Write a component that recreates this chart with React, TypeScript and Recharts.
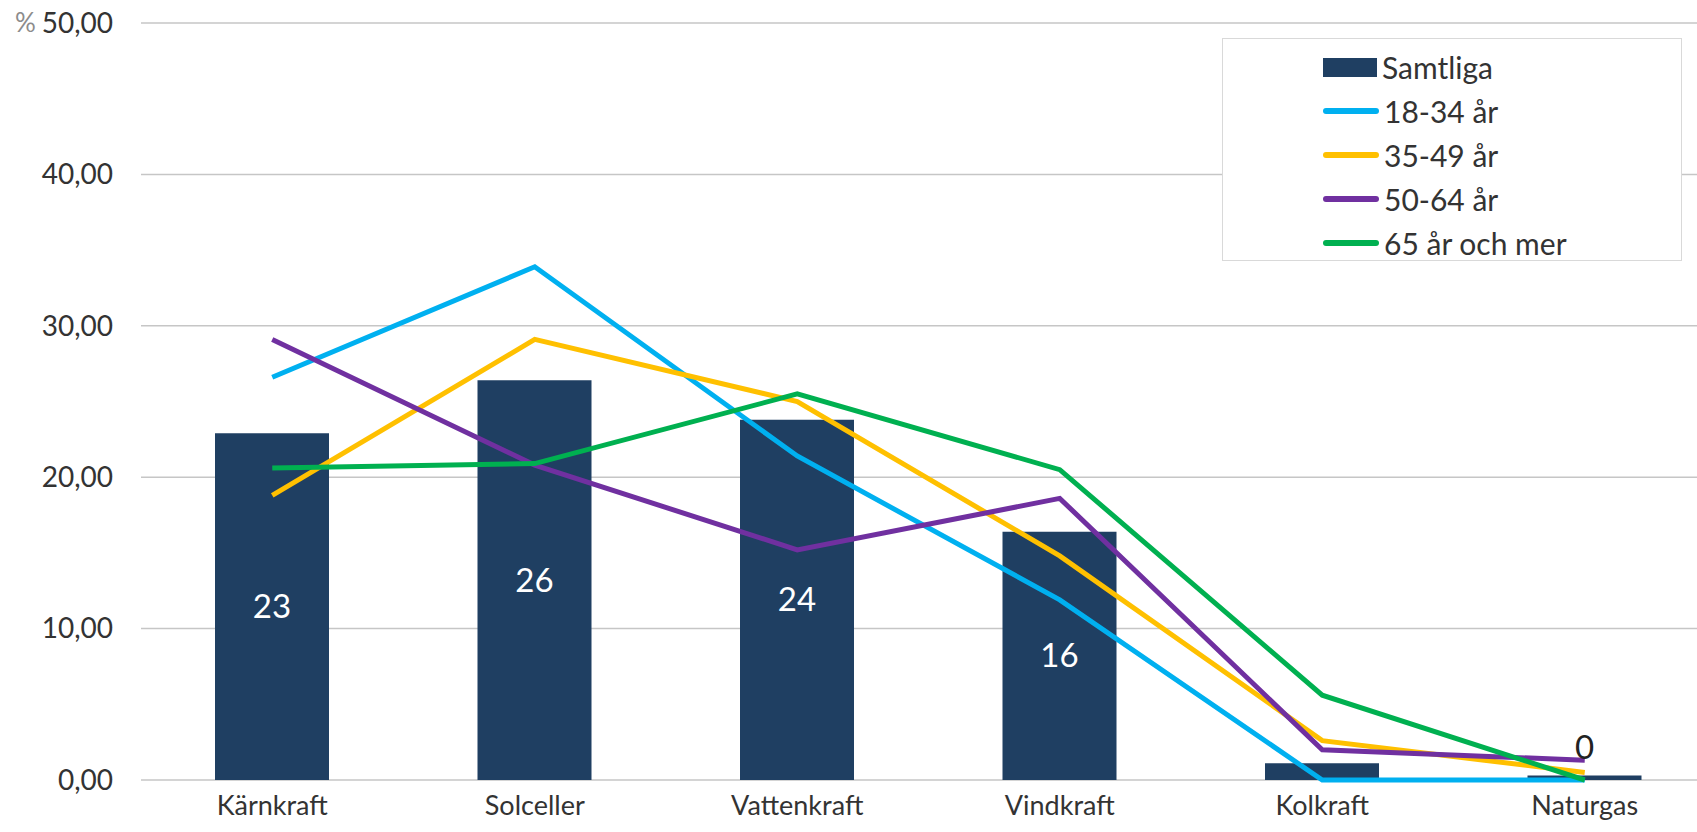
import { ComposedChart, Bar, Line, XAxis, YAxis, CartesianGrid, LabelList } from 'recharts';

const FONT = "Lato, 'Open Sans', sans-serif";

const categories = ['Kärnkraft', 'Solceller', 'Vattenkraft', 'Vindkraft', 'Kolkraft', 'Naturgas'];
const samtliga = [22.9, 26.4, 23.8, 16.4, 1.1, 0.3];
const age18to34 = [26.6, 33.9, 21.4, 11.9, 0, 0];
const age35to49 = [18.8, 29.1, 25.0, 14.8, 2.6, 0.5];
const age50to64 = [29.1, 20.8, 15.2, 18.6, 2.0, 1.3];
const age65plus = [20.6, 20.9, 25.5, 20.5, 5.6, 0];
const yTicks = [0, 10, 20, 30, 40, 50];

const SERIES = [
  { key: 'samtliga', name: 'Samtliga', color: '#1F3F62', type: 'bar' },
  { key: 'a1834', name: '18-34 år', color: '#00B0F0', type: 'line' },
  { key: 'a3549', name: '35-49 år', color: '#FFC000', type: 'line' },
  { key: 'a5064', name: '50-64 år', color: '#7030A0', type: 'line' },
  { key: 'a65', name: '65 år och mer', color: '#00B050', type: 'line' },
];

const data = categories.map((name, i) => ({
  name,
  samtliga: samtliga[i],
  a1834: age18to34[i],
  a3549: age35to49[i],
  a5064: age50to64[i],
  a65: age65plus[i],
}));

const fmt = (v: number) => v.toFixed(2).replace('.', ',');

function YTick(props: any) {
  const { x, y, payload } = props;
  return (
    <g>
      {payload.value === 50 && (
        <text x={15} y={y} dy="0.35em" fontSize={26} fill="#8c8c8c" fontFamily={FONT}>%</text>
      )}
      <text x={x} y={y} dy="0.35em" textAnchor="end" fontSize={28} fill="#333" fontFamily={FONT}>
        {fmt(payload.value)}
      </text>
    </g>
  );
}

function XTick(props: any) {
  const { x, y, payload } = props;
  return (
    <text x={x} y={y} dy="0.71em" textAnchor="middle" fontSize={27} fill="#333" fontFamily={FONT}>
      {payload.value}
    </text>
  );
}

function BarValueLabel(props: any) {
  const { x, y, width, height, value } = props;
  const cx = Number(x) + Number(width) / 2;
  if (value >= 5) {
    return (
      <text x={cx} y={Number(y) + Number(height) / 2} dy="0.35em" textAnchor="middle" fontSize={33} fill="#fff" fontFamily={FONT}>
        {Math.round(value)}
      </text>
    );
  }
  if (value < 0.5) {
    return (
      <text x={cx} y={Number(y) - 28} dy="0.35em" textAnchor="middle" fontSize={33} fill="#222" fontFamily={FONT}>
        {Math.round(value)}
      </text>
    );
  }
  return null;
}

function LegendBox() {
  return (
    <div
      style={{
        position: 'absolute',
        top: 38,
        left: 1222,
        width: 460,
        height: 223,
        boxSizing: 'border-box',
        border: '1px solid #d9d9d9',
        background: '#fff',
        paddingTop: 6,
        paddingLeft: 100,
        fontFamily: FONT,
      }}
    >
      {SERIES.map((s) => (
        <div key={s.key} style={{ display: 'flex', alignItems: 'center', height: 44 }}>
          {s.type === 'bar' ? (
            <div style={{ width: 54, height: 19, background: s.color }} />
          ) : (
            <div style={{ width: 56, height: 6, borderRadius: 3, background: s.color }} />
          )}
          <span style={{ marginLeft: 5, fontSize: 30, color: '#333' }}>{s.name}</span>
        </div>
      ))}
    </div>
  );
}

export default function App() {
  return (
    <div style={{ position: 'fixed', left: 0, top: 0, width: 1697, height: 832, overflow: 'hidden', background: '#fff' }}>
      <ComposedChart width={1716} height={832} data={data} margin={{ top: 23, right: 0, bottom: 0, left: 0 }}>
        <CartesianGrid vertical={false} stroke="#c6c6c6" strokeWidth={1.5} />
        <XAxis
          dataKey="name"
          height={52}
          axisLine={false}
          tickLine={false}
          tickSize={0}
          tickMargin={16}
          tick={<XTick />}
          interval={0}
        />
        <YAxis
          width={141}
          domain={[0, 50]}
          ticks={yTicks}
          axisLine={false}
          tickLine={false}
          tickSize={0}
          tickMargin={28}
          tick={<YTick />}
        />
        <Bar dataKey="samtliga" name="Samtliga" fill="#1F3F62" barSize={114} isAnimationActive={false}>
          <LabelList dataKey="samtliga" content={<BarValueLabel />} />
        </Bar>
        {SERIES.filter((s) => s.type === 'line').map((s) => (
          <Line
            key={s.key}
            dataKey={s.key}
            name={s.name}
            stroke={s.color}
            strokeWidth={5}
            dot={false}
            activeDot={false}
            type="linear"
            isAnimationActive={false}
          />
        ))}
      </ComposedChart>
      <LegendBox />
    </div>
  );
}
